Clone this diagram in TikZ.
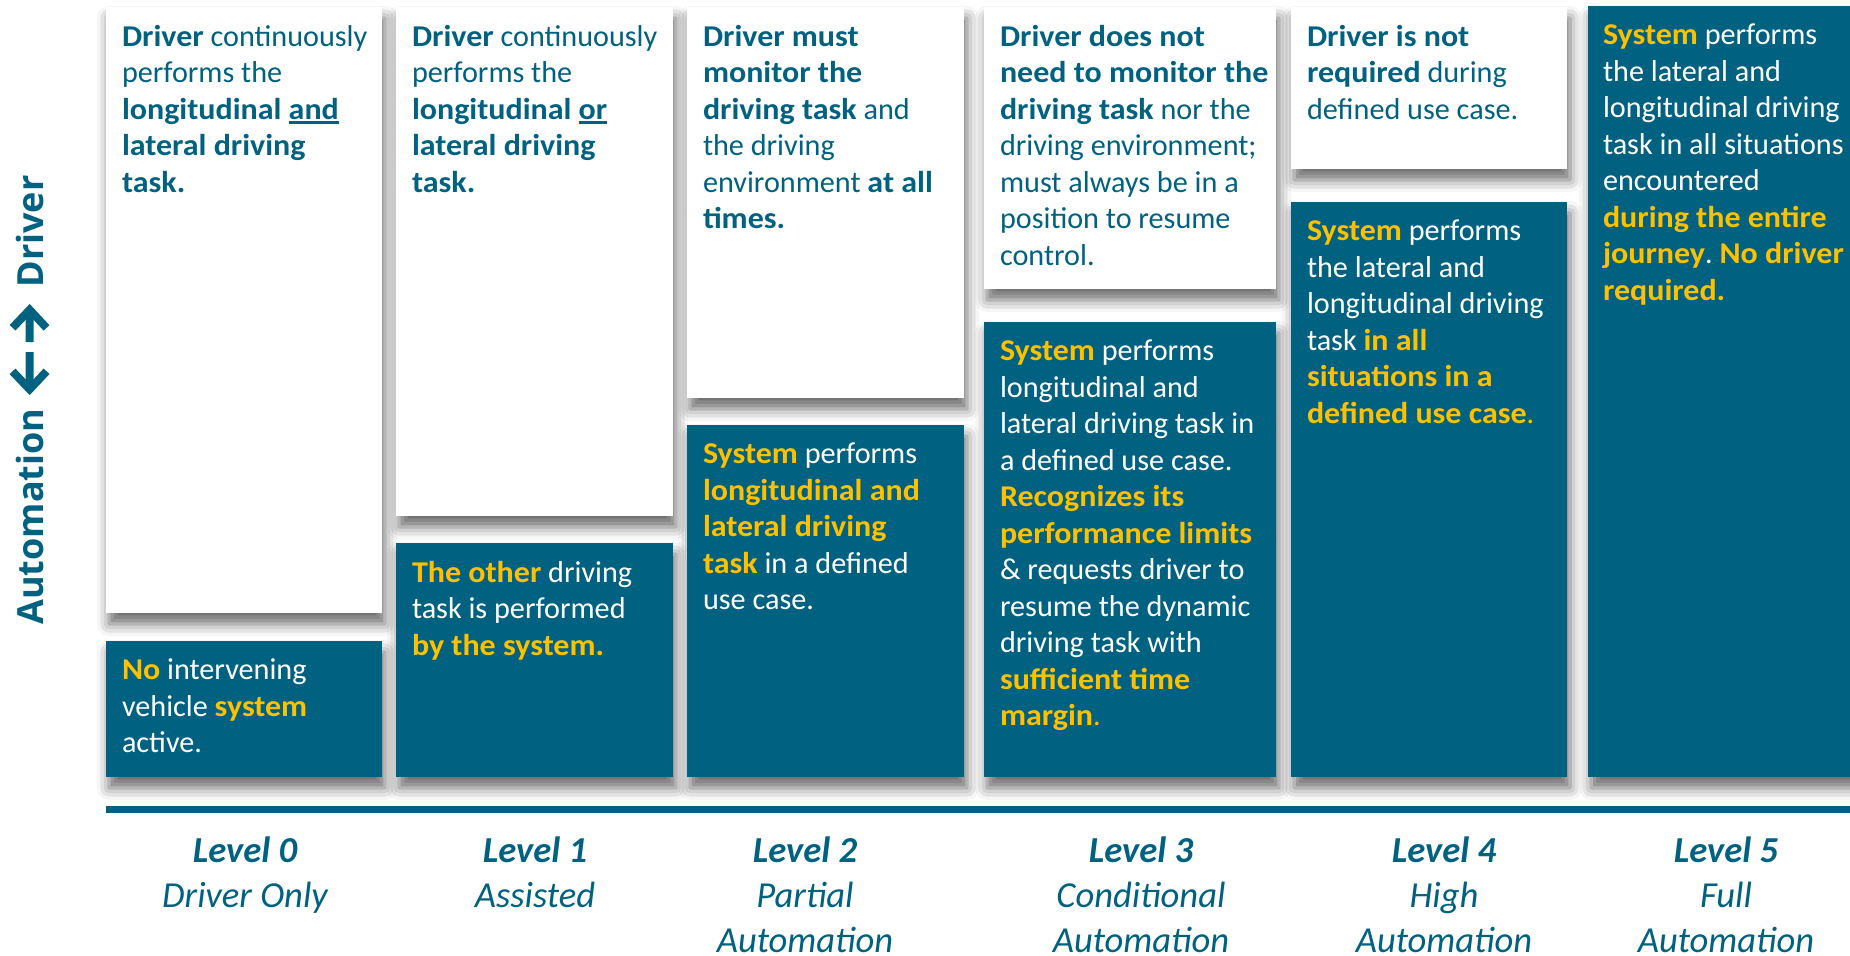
\documentclass[tikz,border=0pt]{standalone}
\usepackage{fontspec}
\setmainfont{Carlito}[BoldFeatures={FakeStretch=1.06}]
\newfontfamily\axisfont{Open Sans}
\usepackage{tikz}
\usetikzlibrary{arrows.meta,positioning,fit,shadows.blur}
\definecolor{SaeBlue}{RGB}{0,98,128}
\definecolor{SaeGold}{RGB}{255,192,0}
\newcommand{\hlg}[1]{\textcolor{SaeGold}{\textbf{#1}}}
\newcommand{\undl}[1]{\setbox0\hbox{#1}\rlap{\rule[-2.2pt]{\wd0}{1.2pt}}\box0}
\frenchspacing

\begin{document}
\begin{tikzpicture}[x=0.5pt,y=-0.5pt,
    every node/.style={inner sep=0pt},
    card/.style={rectangle,blur shadow={shadow xshift=1.5pt,shadow yshift=-5.5pt,shadow blur radius=6pt,shadow opacity=58}},
    drvbox/.style={card,fill=white},
    sysbox/.style={card,fill=SaeBlue},
    drvtxt/.style={anchor=north west,align=left,text=SaeBlue,font=\fontsize{15.1}{18.25}\selectfont,
      execute at begin node={\rule{0pt}{10.5pt}}},
    systxt/.style={drvtxt,text=white},
    lvl/.style={anchor=north,align=center,text=SaeBlue,font=\fontsize{18.3}{22.5}\selectfont\itshape,
      execute at begin node={\rule{0pt}{13pt}}},
    axislbl/.style={rotate=90,anchor=west,text=SaeBlue,font=\axisfont\bfseries\fontsize{18}{22}\selectfont},
    axisarrow/.style={SaeBlue,line width=4pt,line join=miter,-{Straight Barb[length=9pt,width=17pt]}}]
    \useasboundingbox (0,0) rectangle (1850,955);

    % driver part (white) and system part (blue) of each level
    \node[drvbox,fit={(106,7) (382,613)}] (w0) {};
    \node[sysbox,fit={(106,641) (382,777)}] (b0) {};
    \node[drvbox,fit={(396,7) (673,516)}] (w1) {};
    \node[sysbox,fit={(396,543) (673,777)}] (b1) {};
    \node[drvbox,fit={(687,7) (964,398)}] (w2) {};
    \node[sysbox,fit={(687,425) (964,777)}] (b2) {};
    \node[drvbox,fit={(984,7) (1276,289)}] (w3) {};
    \node[sysbox,fit={(984,322) (1276,777)}] (b3) {};
    \node[drvbox,fit={(1291,7) (1567,169)}] (w4) {};
    \node[sysbox,fit={(1291,202) (1567,777)}] (b4) {};
    \node[sysbox,fit={(1588,6) (1870,777)}] (b5) {};

    \node[drvtxt] (w0t) at ([shift={(16,18)}]w0.north west) {\textbf{Driver} continuously\\performs the\\\textbf{longitudinal \undl{and}}\\\textbf{lateral driving}\\\textbf{task.}};
    \node[systxt] (b0t) at ([shift={(16,18)}]b0.north west) {\hlg{No} intervening\\vehicle \hlg{system}\\active.};
    \node[drvtxt] (w1t) at ([shift={(16,18)}]w1.north west) {\textbf{Driver} continuously\\performs the\\\textbf{longitudinal \undl{or}}\\\textbf{lateral driving}\\\textbf{task.}};
    \node[systxt] (b1t) at ([shift={(16,18)}]b1.north west) {\hlg{The other} driving\\task is performed\\\hlg{by the system.}};
    \node[drvtxt] (w2t) at ([shift={(16,18)}]w2.north west) {\textbf{Driver must}\\\textbf{monitor the}\\\textbf{driving task} and\\the driving\\environment \textbf{at all}\\\textbf{times.}};
    \node[systxt] (b2t) at ([shift={(16,18)}]b2.north west) {\hlg{System} performs\\\hlg{longitudinal and}\\\hlg{lateral driving}\\\hlg{task} in a defined\\use case.};
    \node[drvtxt] (w3t) at ([shift={(16,18)}]w3.north west) {\textbf{Driver does not}\\\textbf{need to monitor the}\\\textbf{driving task} nor the\\driving environment;\\must always be in a\\position to resume\\control.};
    \node[systxt] (b3t) at ([shift={(16,18)}]b3.north west) {\hlg{System} performs\\longitudinal and\\lateral driving task in\\a defined use case.\\\hlg{Recognizes its}\\\hlg{performance limits}\\\& requests driver to\\resume the dynamic\\driving task with\\\hlg{sufficient time}\\\hlg{margin}\textcolor{SaeGold}{.}};
    \node[drvtxt] (w4t) at ([shift={(16,18)}]w4.north west) {\textbf{Driver is not}\\\textbf{required} during\\defined use case.};
    \node[systxt] (b4t) at ([shift={(16,18)}]b4.north west) {\hlg{System} performs\\the lateral and\\longitudinal driving\\task \hlg{in all}\\\hlg{situations in a}\\\hlg{defined use case}\textcolor{SaeGold}{.}};
    \node[systxt] (b5t) at ([shift={(15,18)}]b5.north west) {\hlg{System} performs\\the lateral and\\longitudinal driving\\task in all situations\\encountered\\\hlg{during the entire}\\\hlg{journey}. \hlg{No driver}\\\hlg{required.}};

    % level axis
    \draw[SaeBlue,line width=3.5pt] (106,809.5) -- (1850,809.5);
    \node[lvl] (l0) at (245,836) {\textbf{Level 0}\\Driver Only};
    \node[lvl] (l1) at (535,836) {\textbf{Level 1}\\Assisted};
    \node[lvl] (l2) at (805,836) {\textbf{Level 2}\\Partial\\Automation};
    \node[lvl] (l3) at (1141,836) {\textbf{Level 3}\\Conditional\\Automation};
    \node[lvl] (l4) at (1444,836) {\textbf{Level 4}\\High\\Automation};
    \node[lvl] (l5) at (1726,836) {\textbf{Level 5}\\Full\\Automation};

    % Automation <-> Driver
    \node[axislbl] (aut) at (30,625) {Automation};
    \node[axislbl] (drv) at (30,288) {Driver};
    \coordinate (gapu) at (29.5,342);
    \coordinate (gapd) at (29.5,352);
    \draw[axisarrow,shorten >=8pt] (gapu) -- (drv);
    \draw[axisarrow,shorten >=6.5pt] (gapd) -- (aut);
\end{tikzpicture}
\end{document}
